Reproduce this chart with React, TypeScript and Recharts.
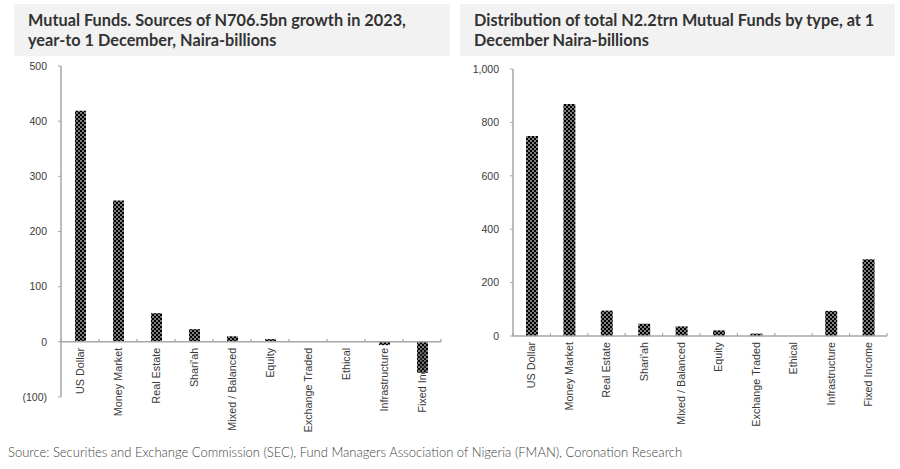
import { BarChart, Bar, XAxis, YAxis, ReferenceLine } from 'recharts';

const categories = [
  'US Dollar',
  'Money Market',
  'Real Estate',
  "Shari'ah",
  'Mixed / Balanced',
  'Equity',
  'Exchange Traded',
  'Ethical',
  'Infrastructure',
  'Fixed Income',
];

// Naira-billions, growth year-to 1 December 2023
const growthValues = [419, 256, 52, 23, 10, 5, 0, 0, -6, -56];
// Naira-billions, total at 1 December
const totalValues = [749, 869, 95, 46, 36, 21, 9, 0, 94, 287];

const growthTicks = [-100, 0, 100, 200, 300, 400, 500];
const totalTicks = [0, 200, 400, 600, 800, 1000];

const growthData = categories.map((name, i) => ({ name, value: growthValues[i] }));
const totalData = categories.map((name, i) => ({ name, value: totalValues[i] }));

const AXIS_GREY = '#a6a6a6';
const TEXT = '#3a3a3a';

const fmtGrowth = (v: number) => (v < 0 ? `(${Math.abs(v)})` : `${v}`);
const fmtTotal = (v: number) => v.toLocaleString('en-US');

function CategoryTick(props: any) {
  const { x, y, payload, index, lift, step, count } = props;
  const axisY = y - lift;
  const ty = axisY + 6;
  return (
    <g>
      <line x1={x - step / 2} x2={x - step / 2} y1={axisY} y2={axisY - 3} stroke={AXIS_GREY} strokeWidth={1.2} />
      {index === count - 1 ? (
        <line x1={x + step / 2} x2={x + step / 2} y1={axisY} y2={axisY - 3} stroke={AXIS_GREY} strokeWidth={1.2} />
      ) : null}
      <text
        x={x}
        y={ty}
        transform={`rotate(-90 ${x} ${ty})`}
        textAnchor="end"
        dy="0.35em"
        fontSize={10.8}
        fontFamily="'Liberation Sans', Arial, sans-serif"
        fill={TEXT}
      >
        {payload.value}
      </text>
    </g>
  );
}

function DotPattern({ id }: { id: string }) {
  return (
    <defs>
      <pattern id={id} width={4} height={4} patternUnits="userSpaceOnUse">
        <rect width={4} height={4} fill="#000" />
        <rect x={0.3} y={0.3} width={1.4} height={1.4} fill="#fff" />
        <rect x={2.3} y={2.3} width={1.4} height={1.4} fill="#fff" />
      </pattern>
    </defs>
  );
}

const titleStyle: React.CSSProperties = {
  position: 'absolute',
  top: 4,
  height: 52,
  background: '#f2f2f2',
  color: '#333',
  fontFamily: 'Lato, sans-serif',
  fontWeight: 700,
  fontSize: 16.3,
  lineHeight: '20px',
  boxSizing: 'border-box',
  paddingTop: 6,
  whiteSpace: 'nowrap',
};

const yTick = { fontSize: 10.5, fill: TEXT, fontFamily: "'Liberation Sans', Arial, sans-serif" };

export default function App() {
  // left plot: 66..397 px tall, domain -100..500
  const leftPlotH = 331;
  const leftLift = (leftPlotH * 100) / 600;
  const leftStep = 380 / categories.length;
  const rightStep = 374 / categories.length;

  return (
    <div style={{ position: 'absolute', left: 0, top: 0, width: 900, height: 469, background: '#fff', overflow: 'hidden' }}>
      <div style={{ ...titleStyle, left: 14, width: 436, paddingLeft: 14 }}>
        Mutual Funds. Sources of N706.5bn growth in 2023,
        <br />
        year-to 1 December, Naira-billions
      </div>
      <div style={{ ...titleStyle, left: 460, width: 435, paddingLeft: 14 }}>
        Distribution of total N2.2trn Mutual Funds by type, at 1
        <br />
        December Naira-billions
      </div>

      <div style={{ position: 'absolute', left: 0, top: 56 }}>
        <BarChart width={450} height={410} data={growthData} margin={{ top: 10, right: 9, left: 0, bottom: 0 }}>
          <DotPattern id="dotsLeft" />
          <XAxis
            dataKey="name"
            interval={0}
            height={69}
            axisLine={false}
            tickLine={false}
            tickSize={0}
            tickMargin={0}
            tick={<CategoryTick lift={leftLift} step={leftStep} count={categories.length} />}
          />
          <YAxis
            width={61}
            domain={[-100, 500]}
            ticks={growthTicks}
            tickFormatter={fmtGrowth}
            axisLine={{ stroke: AXIS_GREY, strokeWidth: 1.5 }}
            tickLine={{ stroke: AXIS_GREY }}
            tickSize={3}
            tickMargin={11}
            tick={yTick}
          />
          <ReferenceLine y={0} stroke={AXIS_GREY} strokeWidth={1.5} />
          <Bar dataKey="value" fill="url(#dotsLeft)" barSize={11} isAnimationActive={false} />
        </BarChart>
      </div>

      <div style={{ position: 'absolute', left: 450, top: 56 }}>
        <BarChart width={450} height={410} data={totalData} margin={{ top: 13, right: 13, left: 0, bottom: 0 }}>
          <DotPattern id="dotsRight" />
          <XAxis
            dataKey="name"
            interval={0}
            height={130}
            axisLine={{ stroke: AXIS_GREY, strokeWidth: 1.5 }}
            tickLine={false}
            tickSize={0}
            tickMargin={0}
            tick={<CategoryTick lift={0} step={rightStep} count={categories.length} />}
          />
          <YAxis
            width={63}
            domain={[0, 1000]}
            ticks={totalTicks}
            tickFormatter={fmtTotal}
            axisLine={{ stroke: AXIS_GREY, strokeWidth: 1.5 }}
            tickLine={{ stroke: AXIS_GREY }}
            tickSize={3}
            tickMargin={11}
            tick={yTick}
          />
          <Bar dataKey="value" fill="url(#dotsRight)" barSize={12} isAnimationActive={false} />
        </BarChart>
      </div>

      <div
        style={{
          position: 'absolute',
          left: 8,
          top: 444,
          fontFamily: 'Lato, sans-serif',
          fontWeight: 300,
          fontSize: 13,
          color: '#444',
          whiteSpace: 'nowrap',
        }}
      >
        Source: Securities and Exchange Commission (SEC), Fund Managers Association of Nigeria (FMAN), Coronation Research
      </div>
    </div>
  );
}
